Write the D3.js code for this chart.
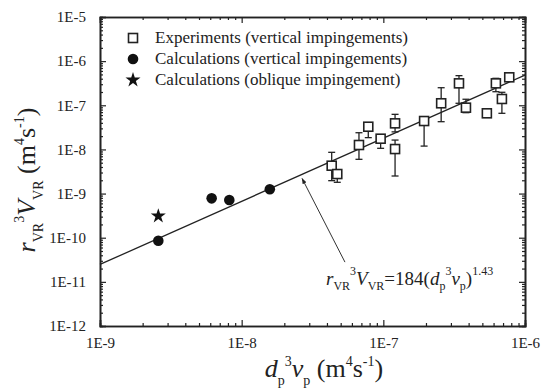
<!DOCTYPE html>
<html>
<head>
<meta charset="utf-8">
<script src="https://cdn.jsdelivr.net/npm/d3@7"></script>
<style>
  body { margin: 0; background: #fff; }
</style>
</head>
<body>
<div id="chart"></div>
<script>
// experiments (vertical impingements), with error bar ends
var expX  = [4.32e-8, 4.73e-8, 6.73e-8, 7.83e-8, 9.57e-8, 1.21e-7, 1.21e-7, 1.94e-7, 2.56e-7, 3.42e-7, 3.83e-7, 5.38e-7, 6.23e-7, 6.87e-7, 7.74e-7];
var expY  = [4.28e-9, 2.77e-9, 1.26e-8, 3.27e-8, 1.75e-8, 3.9e-8, 1.02e-8, 4.4e-8, 1.11e-7, 3.14e-7, 8.83e-8, 6.58e-8, 3.14e-7, 1.39e-7, 4.3e-7];
var expLo = [1.96e-9, 1.8e-9, 5.97e-9, 1.85e-8, 1.06e-8, 2.5e-8, 2.5e-9, 1.19e-8, 4.25e-8, 1.11e-7, 6.8e-8, 6.58e-8, 2.03e-7, 6.58e-8, 4.3e-7];
var expHi = [8.6e-9, 2.77e-9, 2.39e-8, 4.03e-8, 2.12e-8, 6.24e-8, 1.63e-8, 4.4e-8, 2.5e-7, 4.69e-7, 1.37e-7, 6.58e-8, 4.08e-7, 1.97e-7, 4.3e-7];

// calculations (vertical impingements)
var calcX = [2.58e-9, 6.14e-9, 8.18e-9, 1.58e-8];
var calcY = [8.55e-11, 7.8e-10, 7.15e-10, 1.25e-9];

// calculation (oblique impingement)
var oblX = [2.58e-9];
var oblY = [3.1e-10];

// fit  y = 184 x^1.43
var fitA = 184, fitB = 1.43;
var fitX = [1e-9, 1e-6];

var xTickLabels = ["1E-9", "1E-8", "1E-7", "1E-6"];
var yTickLabels = ["1E-12", "1E-11", "1E-10", "1E-9", "1E-8", "1E-7", "1E-6", "1E-5"];

var legendLabels = ["Experiments (vertical impingements)", "Calculations (vertical impingements)", "Calculations (oblique impingement)"];

// arrow from the equation to the line
var arrowFrom = [5.36e-8, 2.8e-11];
var arrowTo = [2.67e-8, 2.2e-9];

var W = 542, H = 389;
var L = 100, R = 525, T = 17, B = 326;

var svg = d3.select("#chart").append("svg")
    .attr("width", W).attr("height", H);

var x = d3.scaleLog().domain([1e-9, 1e-6]).range([L, R]);
var y = d3.scaleLog().domain([1e-12, 1e-5]).range([B, T]);

var majorX = xTickLabels.map(Number), majorY = yTickLabels.map(Number);
var minorX = x.ticks().filter(function(v) { return majorX.indexOf(v) < 0 });
var minorY = y.ticks().filter(function(v) { return majorY.indexOf(v) < 0 });

function styleAxis(g) {
  g.select(".domain").attr("stroke", "#222").attr("stroke-width", 1.6);
  g.selectAll(".tick line").attr("stroke", "#222").attr("stroke-width", 1.2);
  g.selectAll(".tick text").attr("font-size", 15);
}

// bottom
svg.append("g").attr("transform", "translate(0," + B + ")")
  .call(d3.axisBottom(x).tickValues(majorX).tickSize(-6).tickPadding(11)
        .tickFormat(function(d, i) { return xTickLabels[i] }))
  .call(styleAxis);
svg.append("g").attr("transform", "translate(0," + B + ")")
  .call(d3.axisBottom(x).tickValues(minorX).tickSize(-3).tickFormat(""))
  .call(styleAxis);
// top
svg.append("g").attr("transform", "translate(0," + T + ")")
  .call(d3.axisTop(x).tickValues(majorX).tickSize(-6).tickFormat(""))
  .call(styleAxis);
svg.append("g").attr("transform", "translate(0," + T + ")")
  .call(d3.axisTop(x).tickValues(minorX).tickSize(-3).tickFormat(""))
  .call(styleAxis);
// left
svg.append("g").attr("transform", "translate(" + L + ",0)")
  .call(d3.axisLeft(y).tickValues(majorY).tickSize(-6).tickPadding(14)
        .tickFormat(function(d, i) { return yTickLabels[i] }))
  .call(styleAxis);
svg.append("g").attr("transform", "translate(" + L + ",0)")
  .call(d3.axisLeft(y).tickValues(minorY).tickSize(-3).tickFormat(""))
  .call(styleAxis);
// right
svg.append("g").attr("transform", "translate(" + R + ",0)")
  .call(d3.axisRight(y).tickValues(majorY).tickSize(-6).tickFormat(""))
  .call(styleAxis);
svg.append("g").attr("transform", "translate(" + R + ",0)")
  .call(d3.axisRight(y).tickValues(minorY).tickSize(-3).tickFormat(""))
  .call(styleAxis);

// fit line
svg.append("path")
  .datum(fitX.map(function(v) { return [v, fitA * Math.pow(v, fitB)] }))
  .attr("fill", "none").attr("stroke", "#222").attr("stroke-width", 1.3)
  .attr("d", d3.line().x(function(d) { return x(d[0]) }).y(function(d) { return y(d[1]) }));

// error bars
var exp = expX.map(function(v, i) { return {x: v, y: expY[i], lo: expLo[i], hi: expHi[i]} });
var eb = svg.append("g").attr("stroke", "#222").attr("stroke-width", 1.3);
exp.forEach(function(d) {
  var cx = x(d.x);
  if (d.hi > d.y) {
    eb.append("line").attr("x1", cx).attr("x2", cx).attr("y1", y(d.y)).attr("y2", y(d.hi));
    eb.append("line").attr("x1", cx - 3.5).attr("x2", cx + 3.5).attr("y1", y(d.hi)).attr("y2", y(d.hi));
  }
  if (d.lo < d.y) {
    eb.append("line").attr("x1", cx).attr("x2", cx).attr("y1", y(d.y)).attr("y2", y(d.lo));
    eb.append("line").attr("x1", cx - 3.5).attr("x2", cx + 3.5).attr("y1", y(d.lo)).attr("y2", y(d.lo));
  }
});

// squares
svg.append("g").selectAll("rect").data(exp).enter().append("rect")
  .attr("x", function(d) { return x(d.x) - 4.5 })
  .attr("y", function(d) { return y(d.y) - 4.5 })
  .attr("width", 9).attr("height", 9)
  .attr("fill", "#fff").attr("stroke", "#222").attr("stroke-width", 1.6);

// circles
svg.append("g").selectAll("circle").data(calcX).enter().append("circle")
  .attr("cx", function(d) { return x(d) })
  .attr("cy", function(d, i) { return y(calcY[i]) })
  .attr("r", 5.3).attr("fill", "#111");

// stars
var star = d3.symbol().type(d3.symbolStar).size(70);
svg.append("g").selectAll("path").data(oblX).enter().append("path")
  .attr("transform", function(d, i) { return "translate(" + x(d) + "," + y(oblY[i]) + ")" })
  .attr("d", star).attr("fill", "#111");

// legend
var leg = svg.append("g");
legendLabels.forEach(function(t, i) {
  var ly = 38 + i * 21;
  if (i === 0) leg.append("rect").attr("x", 128.5).attr("y", ly - 4.5).attr("width", 9).attr("height", 9)
      .attr("fill", "#fff").attr("stroke", "#222").attr("stroke-width", 1.6);
  if (i === 1) leg.append("circle").attr("cx", 133).attr("cy", ly).attr("r", 5.3).attr("fill", "#111");
  if (i === 2) leg.append("path").attr("transform", "translate(133," + ly + ")").attr("d", star).attr("fill", "#111");
  leg.append("text").attr("x", 155).attr("y", ly + 5).attr("font-size", 17).text(t);
});

// arrow
svg.append("defs").append("marker")
  .attr("id", "ah").attr("viewBox", "0 0 10 10").attr("refX", 9).attr("refY", 5)
  .attr("markerWidth", 6).attr("markerHeight", 6).attr("orient", "auto")
  .append("path").attr("d", "M0,1.5L10,5L0,8.5Z").attr("fill", "#222");
svg.append("line")
  .attr("x1", x(arrowFrom[0])).attr("y1", y(arrowFrom[1]))
  .attr("x2", x(arrowTo[0])).attr("y2", y(arrowTo[1]))
  .attr("stroke", "#333").attr("stroke-width", 1).attr("marker-end", "url(#ah)");

// equation
var eq = svg.append("text").attr("x", 326).attr("y", 285).attr("font-size", 19);
eq.append("tspan").attr("font-style", "italic").text("r");
eq.append("tspan").attr("dy", 5).attr("font-size", 12).text("VR");
eq.append("tspan").attr("dy", -15).attr("font-size", 12).text("3");
eq.append("tspan").attr("dy", 10).attr("font-style", "italic").text("V");
eq.append("tspan").attr("dy", 5).attr("font-size", 12).text("VR");
eq.append("tspan").attr("dy", -5).text("=184(");
eq.append("tspan").attr("font-style", "italic").text("d");
eq.append("tspan").attr("dy", 5).attr("font-size", 12).text("p");
eq.append("tspan").attr("dy", -15).attr("font-size", 12).text("3");
eq.append("tspan").attr("dy", 10).attr("font-style", "italic").text("v");
eq.append("tspan").attr("dy", 5).attr("font-size", 12).text("p");
eq.append("tspan").attr("dy", -5).text(")");
eq.append("tspan").attr("dy", -10).attr("font-size", 12).text("1.43");

// axis titles
function title(t, parts) {
  parts.forEach(function(p) {
    var s = t.append("tspan").text(p.t);
    if (p.i) s.attr("font-style", "italic");
    if (p.dy) s.attr("dy", p.dy);
    if (p.fs) s.attr("font-size", p.fs);
  });
}
var xt = svg.append("text").attr("x", 324).attr("y", 377).attr("text-anchor", "middle").attr("font-size", 26);
title(xt, [
  {t: "d", i: true}, {t: "p", dy: 8, fs: 14}, {t: "3", dy: -19, fs: 14},
  {t: "v", i: true, dy: 11}, {t: "p", dy: 8, fs: 14}, {t: " (m", dy: -8},
  {t: "4", dy: -11, fs: 14}, {t: "s", dy: 11}, {t: "-1", dy: -11, fs: 14}, {t: ")", dy: 11}
]);

var yt = svg.append("text").attr("transform", "translate(35,180) rotate(-90)")
  .attr("text-anchor", "middle").attr("font-size", 26);
title(yt, [
  {t: "r", i: true}, {t: "VR", dy: 8, fs: 14}, {t: "3", dy: -19, fs: 14},
  {t: "V", i: true, dy: 11}, {t: "VR", dy: 8, fs: 14}, {t: " (m", dy: -8},
  {t: "4", dy: -11, fs: 14}, {t: "s", dy: 11}, {t: "-1", dy: -11, fs: 14}, {t: ")", dy: 11}
]);

svg.selectAll("text").attr("fill", "#222").attr("font-family", "Liberation Serif");
svg.selectAll("tspan").attr("font-family", "Liberation Serif");
</script>
</body>
</html>
